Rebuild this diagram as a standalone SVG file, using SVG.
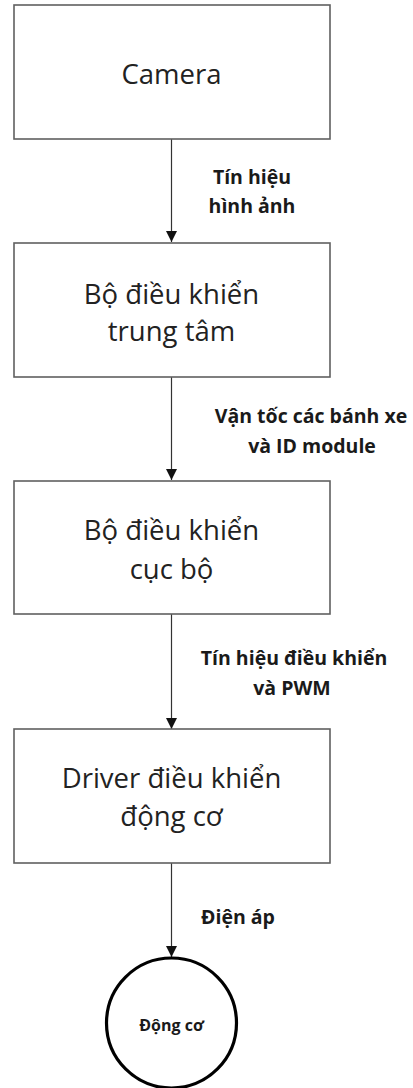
<svg xmlns="http://www.w3.org/2000/svg" width="413" height="1088" viewBox="0 0 413 1088">
  <style>
    .box { fill: #ffffff; stroke: #606060; stroke-width: 1.6; }
    .title { font-family: "Open Sans", "Noto Sans", sans-serif; font-size: 27.5px; fill: #222222; text-anchor: middle; dominant-baseline: central; }
    .lbl { font-family: "Open Sans", "Noto Sans", sans-serif; font-size: 19.5px; font-weight: bold; fill: #1a1a1a; text-anchor: middle; dominant-baseline: central; }
    .edge { stroke: #333333; stroke-width: 1.2; fill: none; marker-end: url(#arrow); }
  </style>
  <defs>
    <marker id="arrow" viewBox="0 0 10 10" refX="10" refY="5" markerWidth="11" markerHeight="11" markerUnits="userSpaceOnUse" orient="auto">
      <path d="M0,0 L10,5 L0,10 Z" fill="#111111"/>
    </marker>
  </defs>
  <rect width="413" height="1088" fill="#ffffff"/>

  <g id="connectors">
    <line class="edge" x1="171.5" y1="139" x2="171.5" y2="242"/>
    <line class="edge" x1="171.5" y1="377" x2="171.5" y2="480"/>
    <line class="edge" x1="171.5" y1="614" x2="171.5" y2="729"/>
    <line class="edge" x1="171.5" y1="863" x2="171.5" y2="957"/>
    <text class="lbl" x="252" y="176">Tín hiệu</text>
    <text class="lbl" x="252" y="205">hình ảnh</text>
    <text class="lbl" x="311" y="415">Vận tốc các bánh xe</text>
    <text class="lbl" x="312" y="445">và ID module</text>
    <text class="lbl" x="294" y="657">Tín hiệu điều khiển</text>
    <text class="lbl" x="292" y="687">và PWM</text>
    <text class="lbl" x="238" y="916">Điện áp</text>
  </g>

  <g id="camera">
    <rect class="box" x="14" y="5" width="316" height="134"/>
    <text class="title" x="171.5" y="73">Camera</text>
  </g>

  <g id="central-controller">
    <rect class="box" x="14" y="243" width="316" height="134"/>
    <text class="title" x="171.5" y="293">Bộ điều khiển</text>
    <text class="title" x="171.5" y="330">trung tâm</text>
  </g>

  <g id="local-controller">
    <rect class="box" x="14" y="481" width="316" height="133"/>
    <text class="title" x="171.5" y="529">Bộ điều khiển</text>
    <text class="title" x="171.5" y="568">cục bộ</text>
  </g>

  <g id="motor-driver">
    <rect class="box" x="14" y="729" width="316" height="134"/>
    <text class="title" x="171.5" y="777">Driver điều khiển</text>
    <text class="title" x="171.5" y="815">động cơ</text>
  </g>

  <g id="motor">
    <circle cx="171.5" cy="1023" r="65" fill="#ffffff" stroke="#000000" stroke-width="3.2"/>
    <text class="lbl" x="171.5" y="1025" style="font-size:16px">Động cơ</text>
  </g>
</svg>
